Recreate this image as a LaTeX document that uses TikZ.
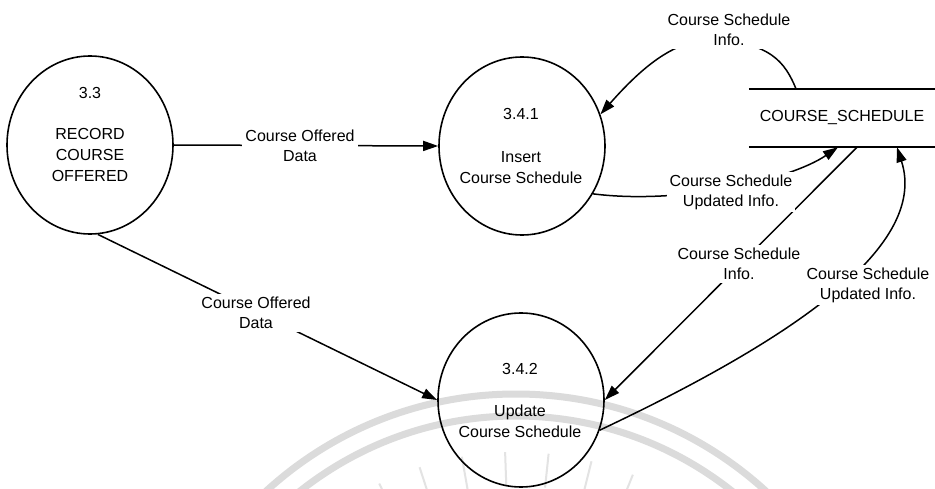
\documentclass[tikz,border=0pt]{standalone}
\usepackage{fontspec}
\setmainfont{Liberation Sans}
\usetikzlibrary{arrows.meta,shapes.geometric}
\begin{document}
\begin{tikzpicture}[x=1pt,y=-1pt,
  proc/.style={ellipse, draw, line width=1.6pt, minimum width=166pt, minimum height=178pt, inner sep=0pt},
  ptext/.style={align=center, font=\fontsize{16}{21}\selectfont, inner sep=0pt},
  flow/.style={line width=1.5pt},
  arr/.style={flow, -{Triangle[length=15pt,width=10pt]}},
  flabel/.style={align=center, font=\fontsize{16}{20}\selectfont, fill=white, inner sep=3pt},
  storebox/.style={minimum width=186pt, minimum height=58pt, inner sep=0pt, font=\fontsize{16}{20}\selectfont},
  storeline/.style={line width=2pt},
  seal/.style={draw=black!14, line width=7pt},
  sealray/.style={draw=black!11, line width=2pt}]

\fill[white] (0,0) rectangle (935,489);
\useasboundingbox (0,0) rectangle (935,489);

% faint seal in the background
\begin{scope}
  \clip (0,0) rectangle (935,489);
  \draw[seal] (516,764) circle (370);
  \draw[seal] (516,764) circle (348);
  \foreach \a in {-116,-108,...,-64}
    \draw[sealray] ([shift={(516,764)}]\a:278) -- ([shift={(516,764)}]\a:312);
\end{scope}

% processes
\node[proc] (p33) at (90,145) {};
\node[ptext] (t33) at (90,134) {3.3\\[20pt]RECORD\\COURSE\\OFFERED};

\node[proc] (p341) at (522,146) {};
\node[ptext] (t341) at (521,146) {3.4.1\\[22pt]Insert\\Course Schedule};

\node[proc, minimum height=174pt] (p342) at (521,400) {};
\node[ptext] (t342) at (520,400) {3.4.2\\[21pt]Update\\Course Schedule};

% data store
\node[storebox] (cs) at (842,118) {COURSE\_SCHEDULE};
\draw[storeline] (cs.north west) -- (cs.north east);
\draw[storeline] (cs.south west) -- (cs.south east);

% data flows
\draw[arr] (p33.east) -- (p341.west);
\draw[arr] (p33.-85) -- (p342.west);
\draw[arr] ([xshift=-46pt]cs.north) .. controls (785,62) and (770,42) .. (712,40)
  .. controls (680,40) and (650,58) .. (p341.22);
\draw[arr] (p341.-34) .. controls (680,205) and (790,180) .. ([xshift=-4pt]cs.south);
\draw[arr] ([xshift=15pt]cs.south) -- (p342.east);
\draw[arr] (p342.-21) .. controls (780,345) and (930,250) .. ([xshift=55pt]cs.south);

% flow labels
\node[flabel] (l1) at (300,146) {Course Offered\\Data};
\node[flabel] (l2) at (256,313) {Course Offered\\Data};
\node[flabel] (l3) at (729,30) {Course Schedule\\Info.};
\node[flabel] (l4) at (731,192) {Course Schedule\\Updated Info.};
\node[flabel] (l5) at (739,264) {Course Schedule\\Info.};
\node[flabel] (l6) at (868,285) {Course Schedule\\Updated Info.};
\end{tikzpicture}
\end{document}
